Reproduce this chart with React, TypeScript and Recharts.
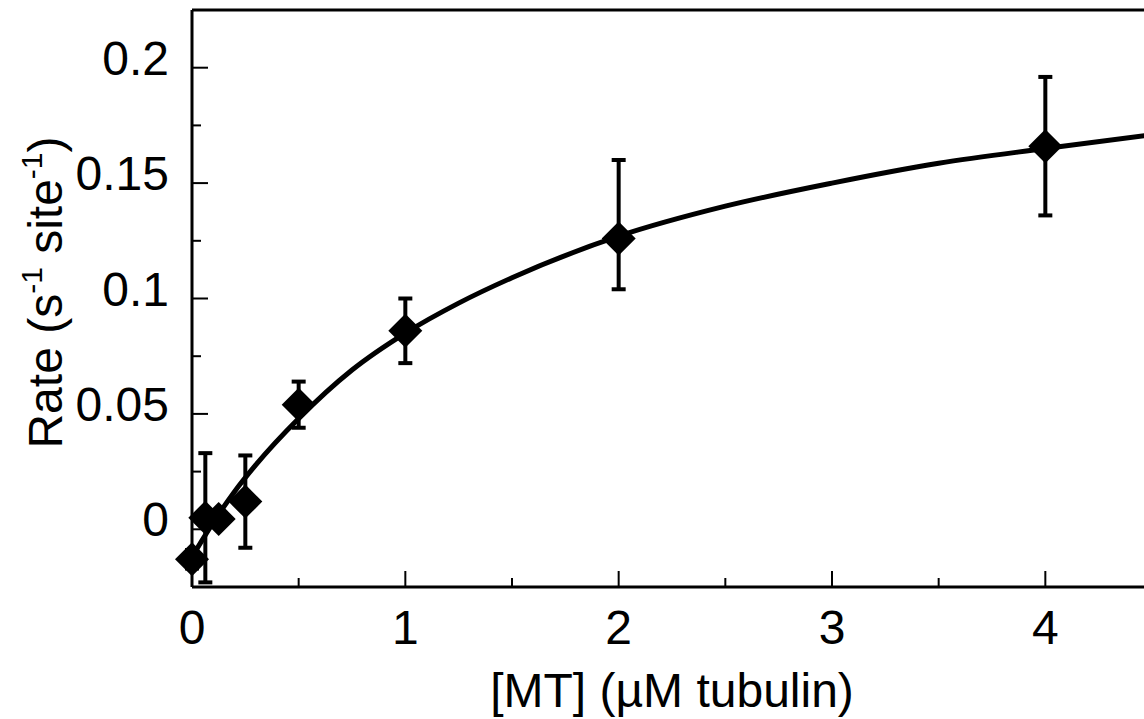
import React from "react";
import {
  ComposedChart,
  Scatter,
  Line,
  XAxis,
  YAxis,
  ErrorBar,
} from "recharts";

// measured points: [MT] (µM), rate, error [below, above]
const mtConc = [0, 0.0625, 0.125, 0.25, 0.5, 1, 2, 4];
const rates = [-0.013, 0.005, 0.0045, 0.012, 0.054, 0.086, 0.126, 0.166];
const errLow = [0.004, 0.028, 0.003, 0.02, 0.01, 0.014, 0.022, 0.03];
const errHigh = [0.004, 0.028, 0.003, 0.02, 0.01, 0.014, 0.034, 0.03];

// hyperbolic fit
const fitX = [0, 0.1, 0.2, 0.3, 0.5, 0.75, 1, 1.25, 1.5, 2, 2.5, 3, 3.5, 4, 4.5];
const fitY = [-0.012, 0.003, 0.0164, 0.028, 0.048, 0.069, 0.085, 0.098, 0.109, 0.127, 0.14, 0.15, 0.1586, 0.165, 0.171];

const xTicks = [0, 0.5, 1, 1.5, 2, 2.5, 3, 3.5, 4, 4.5];
const yTicks = [-0.025, 0, 0.025, 0.05, 0.075, 0.1, 0.125, 0.15, 0.175, 0.2, 0.225];
const xMajor = [0, 1, 2, 3, 4];
const yMajor = [0, 0.05, 0.1, 0.15, 0.2];

const points = mtConc.map((x, i) => ({ x, y: rates[i], err: [errLow[i], errHigh[i]] }));
const fit = fitX.map((x, i) => ({ x, y: fitY[i] }));

const FONT = "'Liberation Sans', Arial, sans-serif";
const MAJOR = 16;
const MINOR = 9;

const BottomTick = (props: any) => {
  const { x, y, payload } = props;
  const major = xMajor.includes(payload.value);
  return (
    <g>
      <line x1={x} x2={x} y1={y} y2={y - (major ? MAJOR : MINOR)} stroke="#000" strokeWidth={2} />
      {major && (
        <text x={x} y={y + 57} textAnchor="middle" fontSize={48} fontFamily={FONT} fill="#000">
          {payload.value}
        </text>
      )}
    </g>
  );
};

const TopTick = (props: any) => {
  const { x, y, payload } = props;
  const major = xMajor.includes(payload.value);
  return <line x1={x} x2={x} y1={y} y2={y + (major ? MAJOR : MINOR)} stroke="#000" strokeWidth={2} />;
};

const LeftTick = (props: any) => {
  const { x, y, payload } = props;
  const major = yMajor.includes(payload.value);
  return (
    <g>
      <line x1={x} x2={x + (major ? MAJOR : MINOR)} y1={y} y2={y} stroke="#000" strokeWidth={2} />
      {major && (
        <text x={x - 23} y={y + 7} textAnchor="end" fontSize={48} fontFamily={FONT} fill="#000">
          {String(payload.value)}
        </text>
      )}
    </g>
  );
};

const RightTick = (props: any) => {
  const { x, y, payload } = props;
  const major = yMajor.includes(payload.value);
  return <line x1={x} x2={x - (major ? MAJOR : MINOR)} y1={y} y2={y} stroke="#000" strokeWidth={2} />;
};

const Diamond = (props: any) => {
  const { cx, cy } = props;
  const r = 17;
  return <path d={`M${cx},${cy - r}L${cx + r},${cy}L${cx},${cy + r}L${cx - r},${cy}Z`} fill="#000" />;
};

const XLabel = (props: any) => {
  const { viewBox } = props;
  return (
    <text
      x={viewBox.x + viewBox.width / 2}
      y={viewBox.y + 120}
      textAnchor="middle"
      fontSize={48}
      fontFamily={FONT}
      fill="#000"
    >
      [MT] (µM tubulin)
    </text>
  );
};

const YLabel = (props: any) => {
  const { viewBox } = props;
  const cx = 62;
  const cy = viewBox.y + viewBox.height / 2 - 6;
  return (
    <text
      x={cx}
      y={cy}
      transform={`rotate(-90 ${cx} ${cy})`}
      textAnchor="middle"
      fontSize={48}
      fontFamily={FONT}
      fill="#000"
    >
      Rate (s
      <tspan fontSize={30} dy={-20}>-1</tspan>
      <tspan dy={20}> site</tspan>
      <tspan fontSize={30} dy={-20}>-1</tspan>
      <tspan dy={20}>)</tspan>
    </text>
  );
};

export default function App() {
  return (
    <div
      style={{
        position: "absolute",
        left: 0,
        top: 0,
        width: 1144,
        height: 719,
        overflow: "hidden",
        background: "#fff",
      }}
    >
      <ComposedChart width={1162} height={719} margin={{ top: 0, right: 0, bottom: 0, left: 0 }}>
        <XAxis
          xAxisId="b"
          dataKey="x"
          type="number"
          domain={[0, 4.5]}
          ticks={xTicks}
          height={132}
          tickLine={false}
          tickSize={0}
          tickMargin={0}
          axisLine={{ stroke: "#000", strokeWidth: 3 }}
          tick={<BottomTick />}
          interval={0}
          label={<XLabel />}
        />
        <XAxis
          xAxisId="t"
          orientation="top"
          dataKey="x"
          type="number"
          domain={[0, 4.5]}
          ticks={xTicks}
          height={10}
          tickLine={false}
          tickSize={0}
          tickMargin={0}
          axisLine={{ stroke: "#000", strokeWidth: 3 }}
          tick={<TopTick />}
          interval={0}
        />
        <YAxis
          yAxisId="l"
          dataKey="y"
          type="number"
          domain={[-0.025, 0.225]}
          ticks={yTicks}
          width={192}
          tickLine={false}
          tickSize={0}
          tickMargin={0}
          axisLine={{ stroke: "#000", strokeWidth: 3 }}
          tick={<LeftTick />}
          interval={0}
          label={<YLabel />}
        />
        <YAxis
          yAxisId="r"
          orientation="right"
          dataKey="y"
          type="number"
          domain={[-0.025, 0.225]}
          ticks={yTicks}
          width={10}
          tickLine={false}
          tickSize={0}
          tickMargin={0}
          axisLine={{ stroke: "#000", strokeWidth: 3 }}
          tick={<RightTick />}
          interval={0}
        />
        <Line
          xAxisId="b"
          yAxisId="l"
          data={fit}
          dataKey="y"
          type="monotone"
          stroke="#000"
          strokeWidth={5}
          dot={false}
          activeDot={false}
          isAnimationActive={false}
        />
        <Scatter
          xAxisId="b"
          yAxisId="l"
          data={points}
          dataKey="y"
          shape={<Diamond />}
          isAnimationActive={false}
        >
          <ErrorBar dataKey="err" direction="y" width={7} strokeWidth={4} stroke="#000" />
        </Scatter>
      </ComposedChart>
    </div>
  );
}
